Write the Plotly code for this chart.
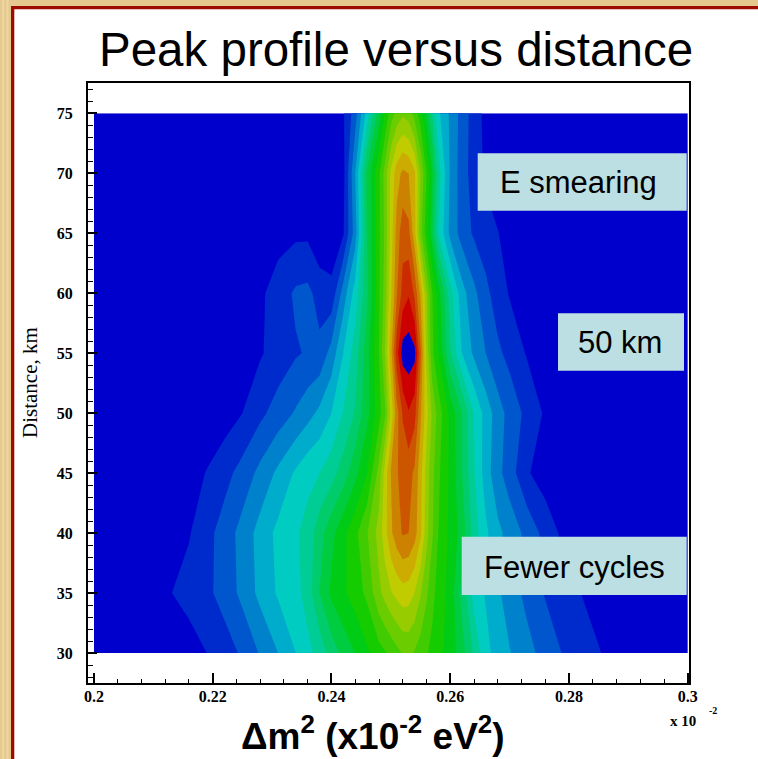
import colorsys
import plotly.graph_objects as go

# ---------------- data ----------------
dm2 = [0.200, 0.205, 0.210, 0.213, 0.216, 0.219, 0.222, 0.225, 0.228, 0.231,
       0.234, 0.236, 0.238, 0.240, 0.242, 0.244, 0.246, 0.248, 0.249, 0.250,
       0.251, 0.252, 0.253, 0.254, 0.255, 0.256, 0.257, 0.258, 0.260, 0.262,
       0.264, 0.266, 0.268, 0.270, 0.273, 0.276, 0.279, 0.282, 0.285, 0.288,
       0.292, 0.296, 0.300]

distance_km = [30, 35, 40, 45, 50, 55, 60, 65, 70, 75]

z_30km = [0, 0, 0, 0.5, 2.5, 5, 7.7, 10.8, 15.5, 20,
          25, 28.5, 32, 37.3, 41.7, 45.1, 49.1, 53, 54.5, 56.5,
          58.5, 60.5, 61, 59.5, 57.5, 55.5, 53.5, 51.7, 47.7, 41.9,
          34.2, 26.5, 22.9, 20.3, 16.6, 13.1, 9.7, 7.5, 5.3, 3,
          1, 0, 0]
z_35km = [0, 0, 2.5, 4.9, 6.9, 8.9, 11.9, 16.4, 21.4, 25.6,
          28.2, 32.3, 40, 46.1, 49.2, 52.3, 56.2, 63.8, 66.8, 69.5,
          71.5, 73, 72.5, 70, 65.5, 61, 56.5, 53.2, 48.1, 38.3,
          28, 24.5, 20.9, 17.5, 13.5, 9.6, 7.2, 5, 3, 1.5,
          0, 0, 0]
z_40km = [0, 0, 1, 2.5, 4.6, 8.4, 12.2, 16.9, 21.9, 26.3,
          29.3, 31.8, 38, 43.4, 48.6, 53.7, 59.7, 67, 73, 79,
          83, 85.5, 85, 82, 76, 67, 60.5, 55, 48.5, 43,
          32.5, 26, 21.3, 18.1, 13.4, 8.3, 3.8, 1.8, 0.5, 0,
          0, 0, 0]
z_45km = [0, 0, 0, 0, 2.5, 5.3, 8.3, 11.9, 16.5, 21.1,
          25.8, 28.5, 30, 33, 37.4, 43.5, 50, 62, 72, 80,
          84.5, 87, 87, 84, 77, 68, 61.5, 56, 49, 40,
          30.5, 22.5, 16.5, 12.5, 5.5, 2.5, 1, 0, 0, 0,
          0, 0, 0]
z_50km = [0, 0, 0, 0, 0, 1, 2.5, 5, 8.8, 12.2,
          15.6, 18.2, 21.2, 25, 30.3, 35.5, 43.5, 53, 59, 71,
          83, 90.5, 94.6, 92, 81, 72, 64, 58, 48.5, 40,
          29.8, 22.9, 17.4, 13.2, 8.5, 4.3, 2, 1, 0, 0,
          0, 0, 0]
z_55km = [0, 0, 0, 0, 0, 0, 1, 2.5, 4.5, 7,
          9.5, 10.5, 11.3, 17, 25, 32.4, 43, 55, 65, 78,
          93, 102.5, 103, 101.5, 86, 69, 56, 50, 35.5, 25,
          19, 15, 11, 8.5, 4.5, 1.5, 0.5, 0, 0, 0,
          0, 0, 0]
z_60km = [0, 0, 0, 0, 0, 0, 0, 1, 4, 7.5,
          10.8, 11.3, 8, 6.5, 17.3, 27.3, 38.8, 54.4, 62, 74,
          84.5, 92, 94.5, 89, 79, 66, 55, 47.5, 31.9, 22,
          16.3, 11.3, 7.6, 4.6, 2, 0.5, 0, 0, 0, 0,
          0, 0, 0]
z_65km = [0, 0, 0, 0, 0, 0, 0, 0.5, 1.5, 3,
          4, 4, 1, 1.5, 4.5, 17.5, 40, 54, 61, 72,
          82, 88, 86.5, 77, 62, 52, 42, 30, 18.6, 12.8,
          9.3, 7.3, 5.2, 3, 1, 0, 0, 0, 0, 0,
          0, 0, 0]
z_70km = [0, 0, 0, 0, 0, 0, 0, 0, 0, 0,
          0, 0, 0, 1, 3.5, 20, 41.3, 54, 62, 71,
          78, 81, 80, 76, 65, 55, 45, 32.5, 19.2, 12.2,
          7.8, 4, 2, 0.8, 0, 0, 0, 0, 0, 0,
          0, 0, 0]
z_75km = [0, 0, 0, 0, 0, 0, 0, 0, 0, 0,
          0, 0, 0, 1.5, 4.5, 12.8, 27.3, 42.7, 50.5, 57.5,
          61.5, 64, 62.5, 58, 52, 44, 34, 26, 19.1, 12.9,
          7.6, 3.5, 1.5, 0.5, 0, 0, 0, 0, 0, 0,
          0, 0, 0]

peak_profile = [z_30km, z_35km, z_40km, z_45km, z_50km,
                z_55km, z_60km, z_65km, z_70km, z_75km]

title_text = "Peak profile versus distance"
x_title = "<b>Δm<sup>2</sup> (x10<sup>-2</sup> eV<sup>2</sup>)</b>"
y_title = "Distance, km"
box_labels = ["E smearing", "50 km", "Fewer cycles"]

# ---------------- palette (ROOT-like rainbow, top level wraps to blue) ----------------
band_colors = []
for k in range(20):
    h = 240.0 * (1 - k / 19.0) / 360.0
    r, g, b = colorsys.hsv_to_rgb(h, 1.0, 0.8)
    band_colors.append("rgb(%d,%d,%d)" % (round(r * 255), round(g * 255), round(b * 255)))
band_colors.append("rgb(0,0,204)")
colorscale = [[k / 20.0, c] for k, c in enumerate(band_colors)]

fig = go.Figure(go.Contour(
    x=dm2, y=distance_km, z=peak_profile,
    colorscale=colorscale,
    contours=dict(start=5, end=100, size=5, coloring="fill", showlines=False),
    line=dict(width=0, smoothing=0),
    showscale=False, hoverinfo="skip",
))

W, H = 758, 759
L, R, T, B = 88, 689, 83, 683


def px(xp):
    return (xp - L) / (R - L)


def py(yp):
    return (B - yp) / (B - T)


serif = "Liberation Serif"
sans = "Liberation Sans"

fig.update_layout(
    width=W, height=H,
    margin=dict(l=L, r=W - R, t=T, b=H - B),
    paper_bgcolor="white", plot_bgcolor="white",
    showlegend=False,
)

fig.update_xaxes(
    range=[0.199, 0.3002], tickmode="linear", tick0=0.2, dtick=0.02,
    ticks="inside", ticklen=10, tickwidth=1.5, tickcolor="black",
    minor=dict(tick0=0.2, dtick=0.004, ticks="inside", ticklen=4, tickwidth=1.2, tickcolor="black"),
    showline=True, linecolor="black", linewidth=2, mirror=True,
    showgrid=False, zeroline=False,
    tickfont=dict(family=serif, size=16, color="black", weight="bold"),
    ticklabelstandoff=-2,
)
fig.update_yaxes(
    range=[27.5, 77.53], tickmode="linear", tick0=30, dtick=5,
    ticks="inside", ticklen=9, tickwidth=1.5, tickcolor="black",
    minor=dict(tick0=30, dtick=1, ticks="inside", ticklen=4.5, tickwidth=1.2, tickcolor="black"),
    showline=True, linecolor="black", linewidth=2, mirror=True,
    showgrid=False, zeroline=False,
    tickfont=dict(family=serif, size=16, color="black", weight="bold"),
    ticklabelstandoff=10,
)

shapes = []
# parchment border (left and top) with a dark red rule
shapes.append(dict(type="rect", xref="paper", yref="paper", x0=px(0), x1=px(11.5), y0=py(H), y1=py(0),
                   fillcolor="#E6C98E", line=dict(width=0), layer="below"))
shapes.append(dict(type="rect", xref="paper", yref="paper", x0=px(0), x1=px(W), y0=py(6.5), y1=py(0),
                   fillcolor="#E6C98E", line=dict(width=0), layer="below"))
for xs in [2, 6.5]:
    shapes.append(dict(type="rect", xref="paper", yref="paper", x0=px(xs), x1=px(xs + 2), y0=py(H), y1=py(0),
                       fillcolor="#EED6A2", line=dict(width=0), layer="below"))
shapes.append(dict(type="rect", xref="paper", yref="paper", x0=px(11), x1=px(14.3), y0=py(H), y1=py(6),
                   fillcolor="#9E0B00", line=dict(width=0), layer="below"))
shapes.append(dict(type="rect", xref="paper", yref="paper", x0=px(11), x1=px(W), y0=py(9.3), y1=py(6),
                   fillcolor="#9E0B00", line=dict(width=0), layer="below"))

# label boxes
boxes = [(477.7, 686.7, 153.3, 210.7), (558, 684, 313.3, 370.7), (461.7, 686.7, 536.7, 595)]
box_text_pos = [(578, 182.7), (620, 342.7), (574.3, 567.3)]
for (x0, x1, y0, y1) in boxes:
    shapes.append(dict(type="rect", xref="paper", yref="paper", x0=px(x0), x1=px(x1), y0=py(y1), y1=py(y0),
                       fillcolor="#BBDFE2", line=dict(width=0), layer="above"))
fig.update_layout(shapes=shapes)

ann = []
ann.append(dict(text=title_text, x=px(395.5), y=py(49.5), font=dict(family=sans, size=47.5, color="black")))
ann.append(dict(text=x_title, x=px(373), y=py(733), font=dict(family=sans, size=37, color="black")))
ann.append(dict(text=y_title, x=px(29.5), y=py(382.5), textangle=-90, font=dict(family=serif, size=21, color="black")))
ann.append(dict(text="<b>x 10</b>", x=px(682.5), y=py(720.5), font=dict(family=serif, size=15, color="black")))
ann.append(dict(text="<b>-2</b>", x=px(712.5), y=py(710), font=dict(family=serif, size=10, color="black")))
for lab, (tx, ty) in zip(box_labels, box_text_pos):
    ann.append(dict(text=lab, x=px(tx), y=py(ty), font=dict(family=sans, size=31, color="black")))
for a in ann:
    a.update(xref="paper", yref="paper", showarrow=False, xanchor="center", yanchor="middle")
fig.update_layout(annotations=ann)

fig.write_html("out.html")
